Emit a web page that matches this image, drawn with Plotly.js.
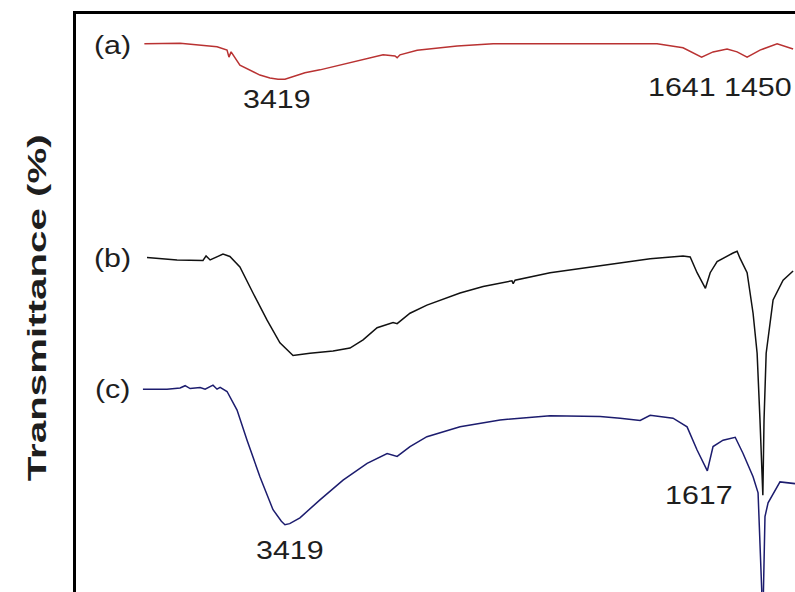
<!DOCTYPE html>
<html>
<head>
<meta charset="utf-8">
<script src="https://cdn.plot.ly/plotly-3.0.1.min.js"></script>
<style>
  html, body { margin: 0; padding: 0; overflow: hidden; background: #fff; }
  #chart { width: 795px; height: 592px; }
  .ytitle { transform-box: fill-box; transform-origin: center; transform: rotate(-90deg) translate(-14px, -8px) scaleX(1.55); }
  .annotation-text { transform-box: fill-box; transform-origin: center; transform: scaleX(1.17); }
</style>
</head>
<body>
<div id="chart"></div>
<script>
// Wavenumber (cm-1) and transmittance (%, offset spectra)
const waveA = [3980, 3830, 3675, 3633, 3625, 3616, 3579, 3537, 3495, 3453, 3419, 3390, 3356, 3306, 3243, 3075, 2978, 2928, 2919, 2907, 2835, 2667, 2516, 1828, 1719, 1641, 1593, 1534, 1492, 1450, 1396, 1324, 1257];
const transA = [94.6, 94.7, 94.1, 93.5, 92.3, 93.2, 90.9, 90.1, 89.2, 88.7, 88.5, 88.5, 89.0, 89.6, 90.1, 91.8, 92.7, 92.5, 92.2, 92.7, 93.5, 94.2, 94.6, 94.6, 93.9, 92.3, 93.2, 93.7, 93.2, 92.3, 93.5, 94.6, 93.7];

const waveB = [3969, 3843, 3734, 3721, 3704, 3650, 3621, 3579, 3524, 3465, 3411, 3356, 3285, 3188, 3117, 3062, 3003, 2936, 2919, 2865, 2794, 2655, 2558, 2437, 2432, 2424, 2277, 2067, 1857, 1719, 1689, 1660, 1625, 1605, 1576, 1509, 1492, 1480, 1450, 1425, 1408, 1396, 1384, 1379, 1370, 1341, 1299, 1257];
const transB = [57.7, 57.3, 57.2, 58.0, 57.3, 58.3, 57.9, 56.1, 51.6, 46.9, 43.0, 40.8, 41.2, 41.6, 42.1, 43.5, 45.6, 46.5, 46.3, 48.1, 49.5, 51.6, 52.7, 53.7, 53.2, 53.8, 55.1, 56.3, 57.5, 58.0, 57.8, 55.1, 52.4, 55.1, 57.0, 58.5, 58.8, 57.6, 55.1, 48.1, 41.2, 29.7, 16.7, 29.7, 41.2, 50.4, 53.8, 55.4];

const waveC = [3986, 3885, 3830, 3809, 3788, 3746, 3725, 3692, 3675, 3662, 3633, 3591, 3549, 3495, 3440, 3405, 3390, 3370, 3327, 3243, 3146, 3045, 2961, 2919, 2865, 2794, 2655, 2487, 2277, 2067, 1983, 1899, 1857, 1761, 1702, 1660, 1617, 1593, 1551, 1500, 1467, 1425, 1404, 1396, 1384, 1375, 1362, 1312, 1249];
const transC = [35.0, 35.0, 35.2, 35.6, 35.1, 35.3, 35.0, 35.7, 35.0, 35.3, 34.6, 31.4, 26.2, 19.9, 14.2, 12.2, 11.6, 11.8, 12.8, 15.9, 19.3, 22.2, 23.9, 23.4, 25.1, 26.8, 28.5, 29.7, 30.4, 30.3, 30.0, 29.6, 30.5, 30.0, 28.5, 24.5, 20.9, 25.1, 26.2, 26.7, 23.9, 19.9, 17.1, 7.3, -4.8, 13.0, 15.4, 19.0, 18.7];

const seriesLabels = ['(a)', '(b)', '(c)'];
const peakLabels = ['3419', '1641', '1450', '1617', '3419'];

const lineW = 1.5;
const traces = [
  {x: waveA, y: transA, type: 'scatter', mode: 'lines', name: seriesLabels[0], line: {color: '#b93232', width: lineW}},
  {x: waveB, y: transB, type: 'scatter', mode: 'lines', name: seriesLabels[1], line: {color: '#111111', width: lineW}},
  {x: waveC, y: transC, type: 'scatter', mode: 'lines', name: seriesLabels[2], line: {color: '#1c1c6e', width: lineW}}
];

const labelFont = {family: 'Arial, "Liberation Sans", sans-serif', size: 26, color: '#1e1e1e'};
function ann(text, x, y) {
  return {text: text, x: x, y: y, xref: 'x', yref: 'y', showarrow: false, xanchor: 'center', yanchor: 'middle', font: labelFont};
}

const layout = {
  width: 795, height: 592,
  margin: {l: 76, r: 0, t: 14, b: 0},
  paper_bgcolor: '#ffffff', plot_bgcolor: '#ffffff',
  showlegend: false,
  xaxis: {range: [4267, 1249], side: 'top', showline: true, linewidth: 3.5, linecolor: '#000000',
          showticklabels: false, ticks: '', showgrid: false, zeroline: false},
  yaxis: {range: [0, 99.74], showline: true, linewidth: 3.5, linecolor: '#000000',
          showticklabels: false, ticks: '', showgrid: false, zeroline: false,
          title: {text: 'Transmittance (%)', standoff: 20,
                  font: {family: 'Arial, "Liberation Sans", sans-serif', size: 26, color: '#1e1e1e', weight: 'bold'}}},
  annotations: [
    ann(seriesLabels[0], 4112, 94.4),
    ann(seriesLabels[1], 4112, 57.8),
    ann(seriesLabels[2], 4112, 35.2),
    ann(peakLabels[0], 3423, 85.1),
    ann(peakLabels[1], 1723, 87.3),
    ann(peakLabels[2], 1404, 87.3),
    ann(peakLabels[3], 1651, 16.9),
    ann(peakLabels[4], 3369, 7.3)
  ]
};

Plotly.newPlot('chart', traces, layout, {displayModeBar: false, staticPlot: true});
</script>
</body>
</html>
